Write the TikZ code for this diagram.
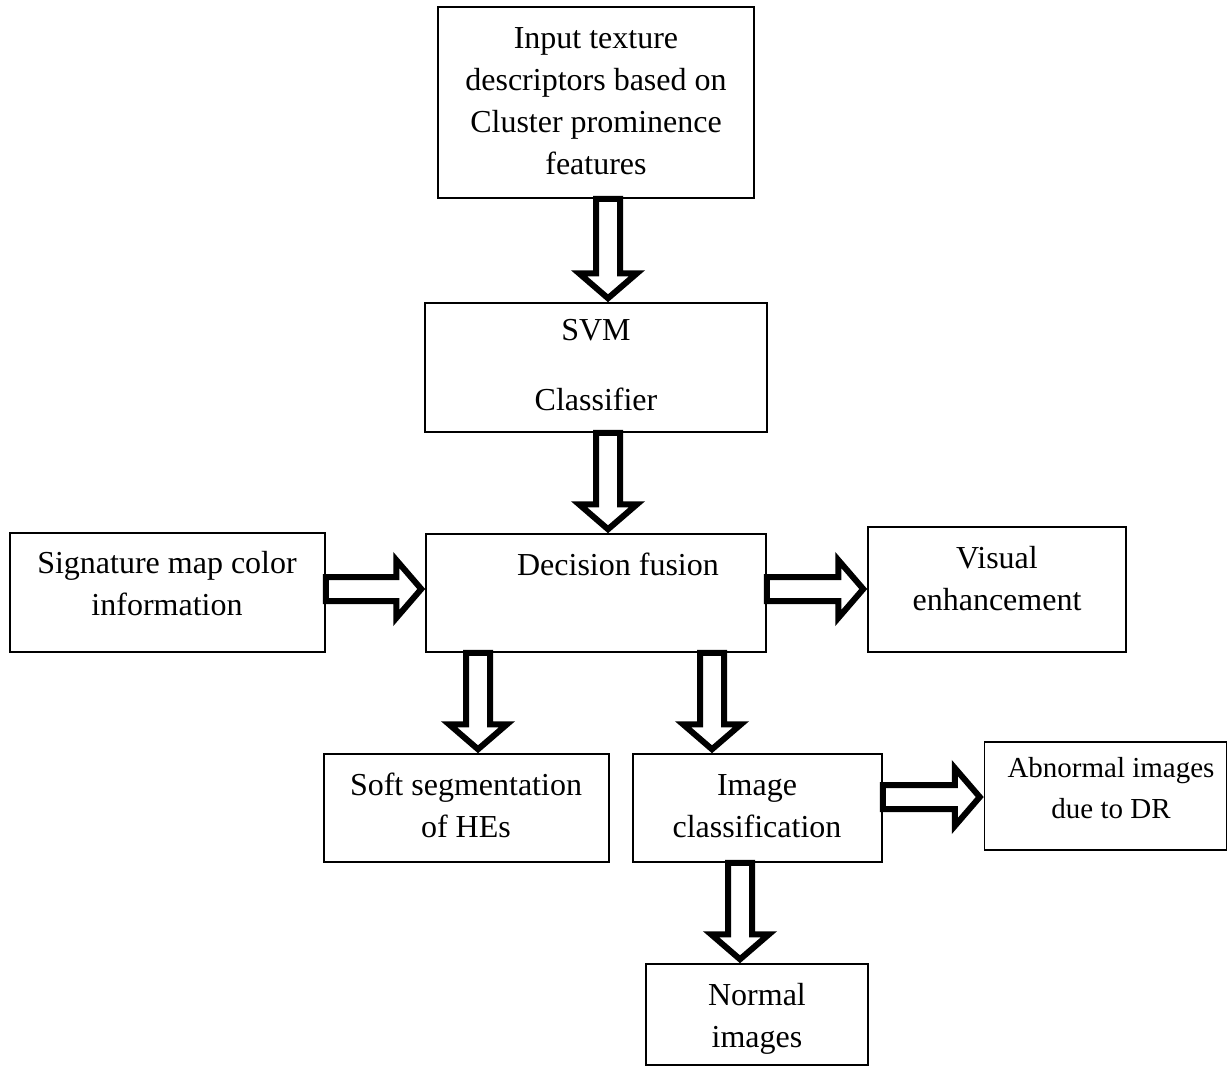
\documentclass[tikz,border=0pt]{standalone}
\usepackage{fontspec}
\setmainfont{Liberation Serif}
\usetikzlibrary{calc}
\tikzset{
  box/.style={draw, line width=1.5pt, inner sep=0pt, rectangle},
  txt/.style={align=center, inner sep=0pt, font=\fontsize{32}{42}\selectfont, anchor=base},
  txtsm/.style={txt, font=\fontsize{29}{41}\selectfont},
  blk/.style={draw, line width=6pt, fill=white, miter limit=10, line join=miter},
}
\newcommand\blkdown[2]{\draw[blk] let \p1=(#1), \p2=(#2) in
  (\x1-12pt,\y1) -- (\x1-12pt,\y2+29pt) -- (\x1-29pt,\y2+29pt) -- (\x1,\y2+4pt)
  -- (\x1+29pt,\y2+29pt) -- (\x1+12pt,\y2+29pt) -- (\x1+12pt,\y1) -- cycle;}
\newcommand\blkright[2]{\draw[blk] let \p1=(#1), \p2=(#2) in
  (\x1,\y1+12pt) -- (\x2-29pt,\y1+12pt) -- (\x2-29pt,\y1+29pt) -- (\x2-4pt,\y1)
  -- (\x2-29pt,\y1-29pt) -- (\x2-29pt,\y1-12pt) -- (\x1,\y1-12pt) -- cycle;}
\begin{document}
\begin{tikzpicture}[x=1pt,y=-1pt]
\useasboundingbox (0,0) rectangle (1229,1066);
% boxes
\node[box, minimum width=316, minimum height=191] (inp) at (596,102.5) {};
\node[box, minimum width=342, minimum height=129] (svm) at (596,367.5) {};
\node[box, minimum width=340, minimum height=118] (dec) at (596,593) {};
\node[box, minimum width=315, minimum height=119] (sig) at (167.5,592.5) {};
\node[box, minimum width=258, minimum height=125] (vis) at (997,589.5) {};
\node[box, minimum width=285, minimum height=108] (soft) at (466.5,808) {};
\node[box, minimum width=249, minimum height=108] (img) at (757.5,808) {};
\node[box, minimum width=242, minimum height=108] (abn) at (1105.5,796) {};
\node[box, minimum width=222, minimum height=101] (norm) at (757,1014.5) {};
% texts (anchor base = baseline of the last line)
\node[txt] (inpT) at (596,174) {Input texture\\descriptors based on\\Cluster prominence\\features};
\node[txt] (svmT) at (596,410) {SVM\\[28pt]Classifier};
\node[txt] (decT) at (618,575) {Decision fusion};
\node[txt] (sigT) at (167,615) {Signature map color\\information};
\node[txt] (visT) at (997,610) {Visual\\enhancement};
\node[txt] (softT) at (466,837) {Soft segmentation\\of HEs};
\node[txt] (imgT) at (757,837) {Image\\classification};
\node[txtsm] (abnT) at (1111,818) {Abnormal images\\due to DR};
\node[txt] (normT) at (757,1047) {Normal\\images};
% block arrows
\blkdown{$(inp.south)+(12,0)$}{svm.north}
\blkdown{$(svm.south)+(12,0)$}{dec.north}
\blkright{$(sig.east)+(0,-3.5)$}{dec.west}
\blkright{$(dec.east)+(0,-4)$}{vis.west}
\blkdown{$(dec.south)+(-118,0)$}{soft.north}
\blkdown{$(dec.south)+(116,0)$}{img.north}
\blkright{$(img.east)+(0,-11)$}{abn.west}
\blkdown{$(img.south)+(-17.5,0)$}{norm.north}
\end{tikzpicture}
\end{document}
